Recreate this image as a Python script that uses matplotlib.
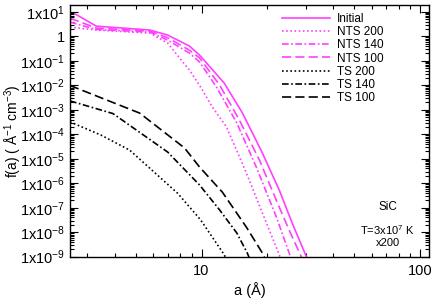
import matplotlib
matplotlib.use("Agg")
import matplotlib.pyplot as plt
from matplotlib.ticker import LogLocator, FixedLocator, FuncFormatter, NullFormatter
import numpy as np

plt.rcParams['font.family'] = ['Liberation Sans', 'DejaVu Sans']
plt.rcParams['mathtext.default'] = 'regular'

MAG = '#ff40ff'

# size distributions (a in Angstrom, f in A^-1 cm^-3)
a_init = [2.65, 3.3, 5.8, 7.0, 8.8, 9.8, 12.7, 15.4, 19.0, 22.7, 26.0, 30.2, 32.0]
f_init = [8.0, 2.6, 1.8, 1.12, 0.40, 0.17, 0.0123, 7.3e-4, 1.7e-5, 5.2e-7, 2.35e-8, 1e-9, 2e-10]

a_nts200 = [2.5, 3.3, 5.8, 7.0, 7.93, 8.8, 9.9, 11.2, 13.0, 16.05, 19.0, 22.7, 24.0]
f_nts200 = [2.37, 1.8, 1.35, 0.53, 0.13, 0.042, 0.0085, 1.3e-3, 2e-4, 2.6e-6, 6e-8, 1.2e-9, 2e-10]

a_nts140 = [2.5, 3.3, 5.8, 7.0, 8.8, 9.8, 11.7, 14.5, 17.8, 22.0, 25.2, 27.0]
f_nts140 = [3.8, 1.9, 1.48, 0.70, 0.206, 0.0885, 0.0085, 2.9e-4, 4.6e-6, 4.2e-8, 1.4e-9, 2e-10]

a_nts100 = [2.5, 3.3, 5.8, 7.0, 8.8, 9.8, 12.1, 14.9, 18.4, 22.0, 25.2, 28.6, 30.0]
f_nts100 = [5.5, 2.16, 1.63, 0.87, 0.27, 0.13, 0.0102, 3.8e-4, 8.9e-6, 2e-7, 1.2e-8, 1e-9, 2e-10]

a_ts200 = [2.5, 3.46, 4.69, 7.77, 9.9, 12.7, 13.5]
f_ts200 = [3.2e-4, 9.3e-5, 2.24e-5, 3.9e-7, 3.2e-8, 1.2e-9, 4e-10]

a_ts140 = [2.5, 3.93, 7.0, 9.79, 12.1, 14.5, 16.2, 17.0]
f_ts140 = [2.3e-3, 7e-4, 1.87e-5, 8.5e-7, 8.1e-8, 9.3e-9, 1.4e-9, 5e-10]

a_ts100 = [2.5, 5.21, 8.36, 9.79, 12.46, 16.05, 19.0, 20.0]
f_ts100 = [9.8e-3, 7.3e-4, 2.75e-5, 4.6e-6, 4.3e-7, 1.6e-8, 1.4e-9, 5e-10]

fig = plt.figure(figsize=(4.36, 3.08), dpi=100)
ax = fig.add_axes([0.1606, 0.1666, 0.8234, 0.8172])

lw = 1.2
dot = (0, (1, 1.5))
dashdot = (0, (4, 1.5, 1, 1.5))
dash = (0, (5.5, 2.5))
ax.plot(a_init, f_init, color=MAG, lw=lw, label='Initial')
ax.plot(a_nts200, f_nts200, color=MAG, lw=lw, ls=dot, label='NTS 200')
ax.plot(a_nts140, f_nts140, color=MAG, lw=lw, ls=dashdot, label='NTS 140')
ax.plot(a_nts100, f_nts100, color=MAG, lw=lw, ls=dash, label='NTS 100')
ax.plot(a_ts200, f_ts200, color='k', lw=lw, ls=dot, label='TS 200')
ax.plot(a_ts140, f_ts140, color='k', lw=lw, ls=dashdot, label='TS 140')
ax.plot(a_ts100, f_ts100, color='k', lw=lw, ls=dash, label='TS 100')

ax.set_xscale('log')
ax.set_yscale('log')
ax.set_xlim(2.5, 110)
ax.set_ylim(1e-9, 19)

def yfmt(v, pos):
    e = int(round(np.log10(v)))
    if e == 0:
        return '1'
    return '1x10$^{%d}$' % e

ax.yaxis.set_major_locator(FixedLocator([10.0 ** e for e in range(-9, 2)]))
ax.yaxis.set_major_formatter(FuncFormatter(yfmt))
ax.yaxis.set_minor_locator(LogLocator(base=10, subs=np.arange(2, 10), numticks=100))
ax.yaxis.set_minor_formatter(NullFormatter())
ax.xaxis.set_major_locator(FixedLocator([10, 100]))
ax.xaxis.set_major_formatter(FuncFormatter(lambda v, p: '%d' % v))
ax.xaxis.set_minor_locator(LogLocator(base=10, subs=np.arange(2, 10), numticks=100))
ax.xaxis.set_minor_formatter(NullFormatter())

ax.tick_params(which='both', direction='in', top=True, right=True, labelsize=10.5, width=0.8)
ax.tick_params(which='major', length=6)
ax.tick_params(which='minor', length=3)
ax.tick_params(axis='x', pad=5)
for s in ax.spines.values():
    s.set_linewidth(1.0)

ax.set_xlabel('a (Å)', fontsize=10.5, labelpad=3)
ax.set_ylabel('f(a) ( Å$^{-1}$ cm$^{-3}$)', fontsize=10)
ax.yaxis.set_label_coords(-0.128, 0.5)

ax.legend(loc='upper left', bbox_to_anchor=(0.59, 0.968), frameon=False,
          fontsize=8.5, handlelength=4.1, handletextpad=0.6, labelspacing=0.1,
          borderpad=0, borderaxespad=0)

ax.text(0.885, 0.197, 'SiC', transform=ax.transAxes, ha='center', va='center', fontsize=8.5)
ax.text(0.885, 0.106, 'T=3x10$^{7}$ K', transform=ax.transAxes, ha='center', va='center', fontsize=8)
ax.text(0.885, 0.055, 'x200', transform=ax.transAxes, ha='center', va='center', fontsize=8)

fig.savefig('out.png', dpi=100)
